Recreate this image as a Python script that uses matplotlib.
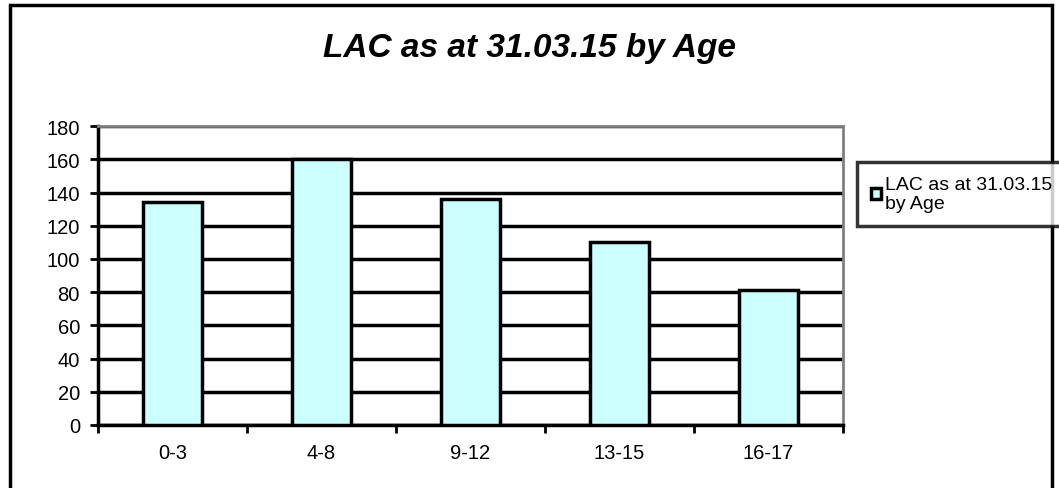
import matplotlib.pyplot as plt
from matplotlib.patches import Rectangle

ages = ["0-3", "4-8", "9-12", "13-15", "16-17"]
counts = [134, 160, 136, 110, 81]
series_name = "LAC as at 31.03.15\nby Age"

plt.rcParams['font.family'] = ['Liberation Sans', 'DejaVu Sans']

fig = plt.figure(figsize=(10.59, 4.89), dpi=100)
ax = fig.add_axes([0.0925, 0.129, 0.7035, 0.611])

x = range(len(ages))
ax.bar(x, counts, width=0.4, color="#ccffff", edgecolor="black", linewidth=2.5,
       label=series_name, zorder=3)

ax.set_ylim(0, 180)
ax.set_yticks(range(0, 181, 20))
ax.set_xlim(-0.5, len(ages) - 0.5)
ax.set_xticks(list(x))
ax.set_xticklabels(ages)
ax.set_xticks([i - 0.5 for i in range(len(ages) + 1)], minor=True)
ax.yaxis.grid(True, color="black", linewidth=2.5, zorder=0)

ax.tick_params(axis="x", which="major", length=0, labelsize=14.5, pad=13)
ax.tick_params(axis="x", which="minor", length=6, width=2, direction="out")
ax.tick_params(axis="y", length=6, width=2, labelsize=14.5, pad=7)

ax.spines["left"].set_linewidth(2.5)
ax.spines["bottom"].set_linewidth(2.5)
for s in ["top", "right"]:
    ax.spines[s].set_color("#808080")
    ax.spines[s].set_linewidth(2)

fig.text(0.5, 1 - 57 / 489, "LAC as at 31.03.15 by Age", ha="center",
         va="baseline", fontsize=24, fontweight="bold", fontstyle="italic")

leg = fig.legend(loc="upper left", bbox_to_anchor=(857 / 1059, 1 - 163 / 489),
                 borderaxespad=0, fontsize=14, frameon=True, fancybox=False,
                 edgecolor="black", handlelength=0.55, handleheight=0.55,
                 handletextpad=0.2, borderpad=0.7, labelspacing=0.1)
leg.get_frame().set_linewidth(2.5)

# outer chart border
fig.patches.append(Rectangle((10 / 1059, -0.05), 1042 / 1059, 1.05 - 6 / 489,
                             transform=fig.transFigure, fill=False,
                             edgecolor="black", linewidth=2.5))

fig.savefig("out.png", dpi=100)
